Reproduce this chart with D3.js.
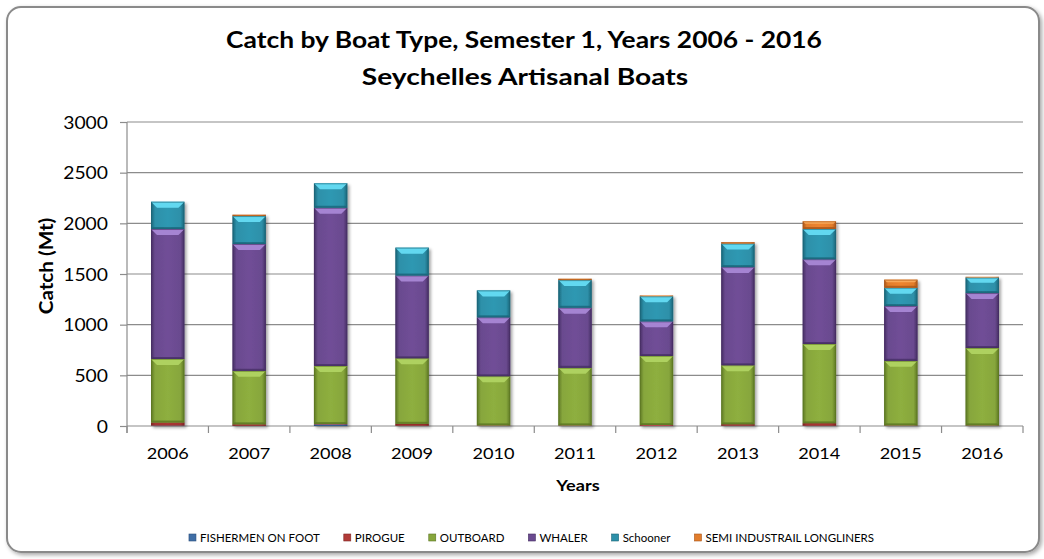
<!DOCTYPE html>
<html><head><meta charset="utf-8">
<script src="https://cdn.jsdelivr.net/npm/d3@7"></script>
<style>html,body{margin:0;padding:0;background:#fff;} svg{display:block;}</style>
</head><body>
<svg id="c" width="1044" height="559"></svg>
<script>
const categories = ['2006','2007','2008','2009','2010','2011','2012','2013','2014','2015','2016'];
const seriesNames = ['FISHERMEN ON FOOT','PIROGUE','OUTBOARD','WHALER','Schooner','SEMI INDUSTRAIL LONGLINERS'];
const fishermenOnFoot = [5, 2, 15, 3, 2, 2, 2, 3, 3, 2, 2];
const pirogue        = [30, 15, 5, 20, 5, 5, 8, 15, 25, 5, 5];
const outboard       = [627, 527, 573, 646, 485, 567, 682, 582, 782, 636, 763];
const whaler         = [1282, 1252, 1561, 817, 581, 594, 341, 968, 836, 541, 542];
const schooner       = [269, 276, 241, 274, 265, 272, 247, 232, 299, 181, 153];
const longliners     = [0, 13, 0, 0, 0, 13, 9, 14, 75, 79, 8];
const yTicks = [0, 500, 1000, 1500, 2000, 2500, 3000];
const titleLines = ['Catch by Boat Type, Semester 1, Years 2006 - 2016', 'Seychelles Artisanal Boats'];
const xTitle = 'Years';
const yTitle = 'Catch (Mt)';

const seriesData = [fishermenOnFoot, pirogue, outboard, whaler, schooner, longliners];
const colors = [
  {base:'#3f6ea6', light:'#6f9ad0', dark:'#2b4f7c'},
  {base:'#b13b38', light:'#dc6a66', dark:'#7e2523'},
  {base:'#87a63c', light:'#aed160', dark:'#5c7623'},
  {base:'#6a4a8f', light:'#a584d2', dark:'#452d62'},
  {base:'#2d90a9', light:'#62d8f0', dark:'#1a6477'},
  {base:'#e27d2c', light:'#f8a85a', dark:'#a8561a'}
];

const rows = categories.map((c,i)=>{
  const r = {cat:c};
  seriesNames.forEach((s,k)=> r[s] = seriesData[k][i]);
  return r;
});

const svg = d3.select('#c');
const FONT = 'Lato, "Open Sans", sans-serif';
const SX = 1.17;

const defs = svg.append('defs');
const fshadow = defs.append('filter').attr('id','fshadow').attr('x','-10%').attr('y','-10%').attr('width','130%').attr('height','130%');
fshadow.append('feDropShadow').attr('dx',2).attr('dy',2).attr('stdDeviation',1.8).attr('flood-color','#000').attr('flood-opacity',0.35);
const frameShadow = defs.append('filter').attr('id','frameShadow').attr('x','-5%').attr('y','-5%').attr('width','110%').attr('height','110%');
frameShadow.append('feDropShadow').attr('dx',2).attr('dy',2).attr('stdDeviation',2).attr('flood-color','#000').attr('flood-opacity',0.35);

colors.forEach((c,k)=>{
  const g = defs.append('linearGradient').attr('id','grad'+k).attr('x1','0').attr('x2','1').attr('y1','0').attr('y2','0');
  g.append('stop').attr('offset','0').attr('stop-color',c.dark);
  g.append('stop').attr('offset','0.12').attr('stop-color',c.base);
  g.append('stop').attr('offset','0.5').attr('stop-color',d3.color(c.base).brighter(0.15));
  g.append('stop').attr('offset','0.88').attr('stop-color',c.base);
  g.append('stop').attr('offset','1').attr('stop-color',c.dark);
});

// frame
svg.append('rect').attr('x',7).attr('y',7).attr('width',1032).attr('height',545).attr('rx',14)
  .attr('fill','#fff').attr('stroke','#8a8a8a').attr('stroke-width',2).attr('filter','url(#frameShadow)');

const L = 127, R = 1023, T = 122, B = 426;
const x = d3.scaleBand().domain(categories).range([L, R]).paddingInner(0.59).paddingOuter(0.295);
const y = d3.scaleLinear().domain([0, 3000]).range([B, T]);

function sText(parent, px, py, str, opt){
  const g = parent.append('g').attr('transform', `translate(${px},${py}) ${opt.rotate?'rotate(-90)':''} scale(${opt.sx||1},1)`);
  return g.append('text').attr('x',0).attr('y',0).attr('text-anchor',opt.anchor||'middle')
    .attr('font-family',FONT).attr('font-size',opt.size).attr('font-weight',opt.weight||'normal')
    .attr('fill','#000').text(str);
}

// gridlines
svg.append('g').selectAll('line').data(yTicks.filter(d=>d>0)).join('line')
  .attr('x1',L).attr('x2',R).attr('y1',d=>y(d)).attr('y2',d=>y(d))
  .attr('stroke','#8c8c8c').attr('stroke-width',1.2);

// y axis
const yAxis = svg.append('g').attr('transform',`translate(${L},0)`)
  .call(d3.axisLeft(y).tickValues(yTicks).tickFormat(d3.format('d')).tickSize(7).tickSizeOuter(0).tickPadding(0));
yAxis.select('.domain').attr('stroke','#8c8c8c').attr('stroke-width',1.2).attr('d',`M0,${T}V${B+7}`);
yAxis.selectAll('.tick line').attr('stroke','#8c8c8c').attr('stroke-width',1.2);
yAxis.selectAll('.tick text').attr('x',0).attr('dy',0).attr('y',6)
  .attr('transform',`translate(-19,0) scale(${SX},1)`)
  .attr('font-family',FONT).attr('font-size',16.5).attr('fill','#000');

// x axis
const xAxisG = svg.append('g').attr('transform',`translate(0,${B})`);
xAxisG.append('line').attr('x1',L).attr('x2',R).attr('y1',0).attr('y2',0).attr('stroke','#8c8c8c').attr('stroke-width',1.2);
const bounds = categories.map(c=>x(c) - x.step()*x.paddingInner()/2);
bounds.push(R);
xAxisG.selectAll('line.tk').data(bounds).join('line').attr('class','tk')
  .attr('x1',d=>d).attr('x2',d=>d).attr('y1',0).attr('y2',7).attr('stroke','#8c8c8c').attr('stroke-width',1.2);
categories.forEach(c=>{
  sText(svg, x(c)+x.bandwidth()/2, 459, c, {size:15.5, sx:SX});
});

// bars
const stack = d3.stack().keys(seriesNames);
const stacked = stack(rows);
const barsG = svg.append('g');
categories.forEach((c,i)=>{
  const bg = barsG.append('g').attr('filter','url(#fshadow)');
  stacked.forEach((layer,k)=>{
    const d = layer[i];
    const v = d[1]-d[0];
    if (v <= 0) return;
    const x0 = x(c), w = x.bandwidth();
    const yTop = y(d[1]), yBot = y(d[0]);
    const h = yBot - yTop;
    const col = colors[k];
    bg.append('rect').attr('x',x0).attr('y',yTop).attr('width',w).attr('height',h)
      .attr('fill',`url(#grad${k})`);
    if (h > 6) {
      const b = Math.min(6, h/3);
      bg.append('path')
        .attr('d',`M${x0},${yTop}H${x0+w}L${x0+w-b},${yTop+b}H${x0+b}Z`)
        .attr('fill',col.light);
      bg.append('path')
        .attr('d',`M${x0},${yBot}H${x0+w}L${x0+w-2},${yBot-2}H${x0+2}Z`)
        .attr('fill',col.dark).attr('opacity',0.7);
    }
    bg.append('rect').attr('x',x0+0.5).attr('y',yTop+0.5).attr('width',w-1).attr('height',Math.max(0,h-1))
      .attr('fill','none').attr('stroke',col.dark).attr('stroke-width',1).attr('opacity',0.6);
  });
});

// titles
sText(svg, 524, 47.5, titleLines[0], {size:22, weight:'bold', sx:1.2});
sText(svg, 525, 85, titleLines[1], {size:22, weight:'bold', sx:1.28});
sText(svg, 578, 491, xTitle, {size:15.5, weight:'bold', sx:SX});
sText(svg, 53, 266, yTitle, {size:18, weight:'bold', rotate:true, sx:1.15});

// legend
const legG = svg.append('g');
let cx = 0;
seriesNames.forEach((s,k)=>{
  const ig = legG.append('g').attr('transform',`translate(${cx},0)`);
  ig.append('rect').attr('x',0).attr('y',-8).attr('width',7).attr('height',7)
    .attr('fill',colors[k].base).attr('stroke',colors[k].dark).attr('stroke-width',0.6);
  const t = sText(ig, 11, 0, s, {size:11.5, anchor:'start', sx:1.0});
  const wdt = t.node().getComputedTextLength();
  cx += 11 + wdt + 24;
});
const totalW = cx - 24;
legG.attr('transform',`translate(${531.5 - totalW/2},542)`);
</script>
</body></html>
